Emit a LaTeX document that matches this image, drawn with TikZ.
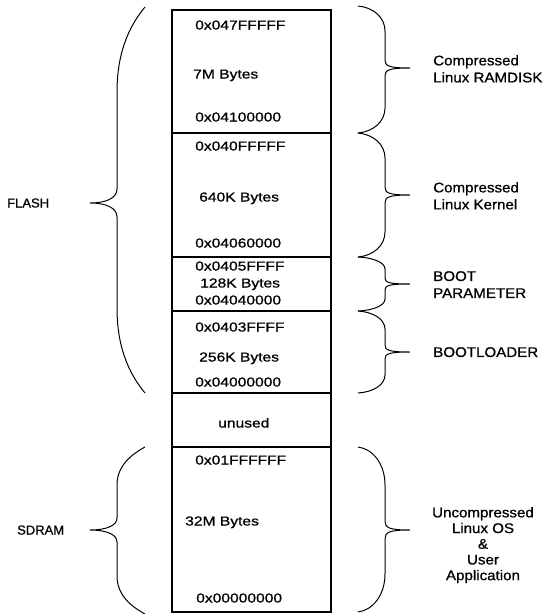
\documentclass[tikz,border=0pt]{standalone}
\usepackage{fontspec}
\setmainfont{Liberation Sans}[FakeBold=0.8]
\newcommand\LBr[5]{% ytop ytip ybot r c
  \draw[bracel] (145,#1) .. controls (131,{#1+0.2*#4}) and (117,{#1+0.5*#4}) .. (117,{#1+#4})
    -- (117,{#2-#5}) .. controls (117,{#2-0.35*#5}) and (106,#2) .. (90,#2)
    .. controls (106,#2) and (117,{#2+0.35*#5}) .. (117,{#2+#5})
    -- (117,{#3-#4}) .. controls (117,{#3-0.5*#4}) and (131,{#3-0.2*#4}) .. (145,#3);}
\newcommand\RBr[5]{% ytop ytip ybot r c
  \draw[bracel] (358,#1) .. controls (373,{#1+0.05*#4}) and (385,{#1+0.45*#4}) .. (385,{#1+#4})
    -- (385,{#2-#5}) .. controls (385,{#2-0.25*#5}) and (389,#2) .. (410,#2)
    .. controls (389,#2) and (385,{#2+0.25*#5}) .. (385,{#2+#5})
    -- (385,{#3-#4}) .. controls (385,{#3-0.45*#4}) and (373,{#3-0.05*#4}) .. (358,#3);}
\begin{document}
\begin{tikzpicture}[x=1pt,y=-1pt,
  boxline/.style={line width=1.4pt},
  bracel/.style={line width=1pt},
  intext/.style={font=\fontsize{13}{15}\selectfont, anchor=west, inner sep=0pt,
    text height=9pt, text depth=0pt, xscale=1.2},
  sidelbl/.style={font=\fontsize{14}{17}\selectfont, inner sep=0pt, xscale=1.08},
  leftlbl/.style={font=\fontsize{13}{15}\selectfont, anchor=west, inner sep=0pt,
    text height=9pt, text depth=0pt}
]
\useasboundingbox (0,0) rectangle (544,614);
% memory box
\draw[boxline] (172,10) rectangle (331,612);
\foreach \yy in {133,257,311,393,447}
  \draw[boxline] (172,\yy) -- (331,\yy);
% texts in the box
\node[intext] (a1) at (195,25) {0x047FFFFF};
\node[intext] (s1) at (193,74) {7M Bytes};
\node[intext] (b1) at (195,117) {0x04100000};
\node[intext] (a2) at (195,146) {0x040FFFFF};
\node[intext] (s2) at (199,197) {640K Bytes};
\node[intext] (b2) at (195,243) {0x04060000};
\node[intext] (a3) at (195,266) {0x0405FFFF};
\node[intext] (s3) at (200,283) {128K Bytes};
\node[intext] (b3) at (195,300) {0x04040000};
\node[intext] (a4) at (195,327) {0x0403FFFF};
\node[intext] (s4) at (199,357) {256K Bytes};
\node[intext] (b4) at (195,382) {0x04000000};
\node[intext] (un) at (218,423) {unused};
\node[intext] (a6) at (195,460) {0x01FFFFFF};
\node[intext] (s6) at (185,521) {32M Bytes};
\node[intext] (b6) at (196,598) {0x00000000};
% braces
\LBr{7}{203}{393}{85}{14}
\LBr{447}{530}{614}{38}{12}
\RBr{6}{68}{133}{25}{8}
\RBr{133}{195}{257}{25}{8}
\RBr{257}{284}{311}{12}{6}
\RBr{311}{352}{393}{18}{7}
\RBr{447}{530}{612}{38}{9}
% labels
\node[leftlbl] (flash) at (7,203) {FLASH};
\node[leftlbl] (sdram) at (17,530) {SDRAM};
\node[sidelbl, anchor=north west, align=left] (ramdisk) at (433,55) {Compressed\\Linux RAMDISK};
\node[sidelbl, anchor=north west, align=left] (kernel) at (433,182) {Compressed\\Linux Kernel};
\node[sidelbl, anchor=north west, align=left] (bootp) at (433,271) {BOOT\\PARAMETER};
\node[sidelbl, anchor=north west, align=left] (bootl) at (433,347) {BOOTLOADER};
\node[sidelbl, anchor=north, align=center, font=\fontsize{14}{15.7}\selectfont] (uncomp) at (483,507) {Uncompressed\\Linux OS\\\&\\User\\Application};
\end{tikzpicture}
\end{document}
